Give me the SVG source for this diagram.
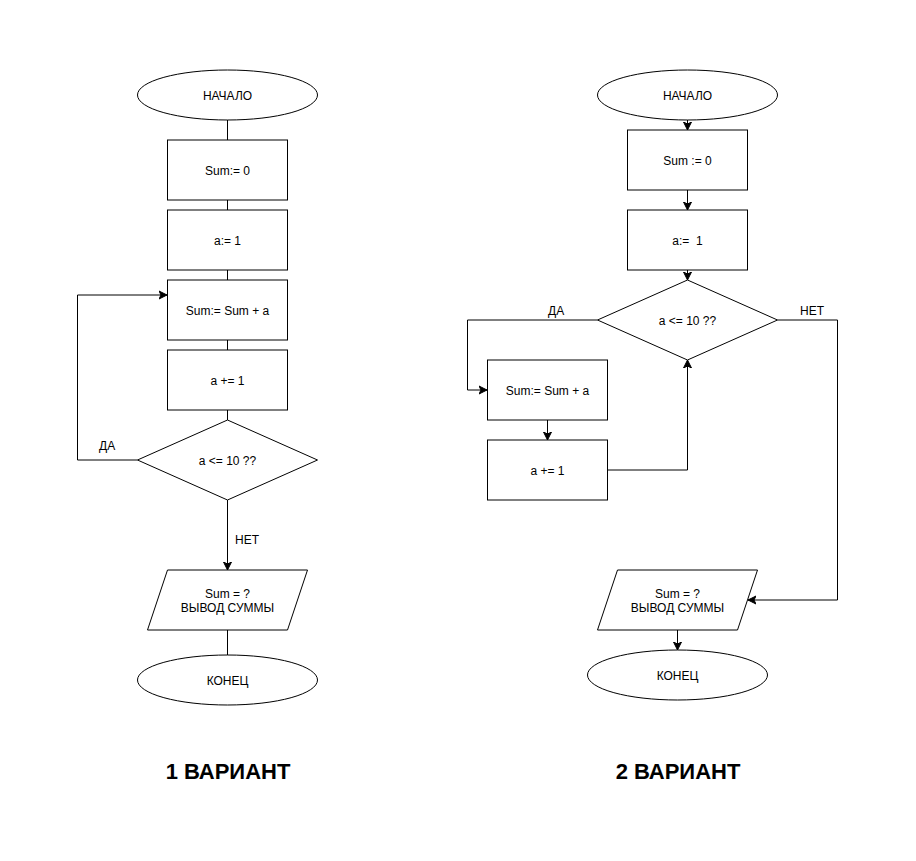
<svg xmlns="http://www.w3.org/2000/svg" width="916" height="861" viewBox="0 0 916 861">
<defs>
<marker id="arr" markerUnits="userSpaceOnUse" markerWidth="10" markerHeight="10" refX="8" refY="4" orient="auto" viewBox="0 0 10 8">
<path d="M0,0 L8,4 L0,8 L2,4 Z" fill="#000" stroke="#000" stroke-width="1"/>
</marker>
<style>
.s{fill:#fff;stroke:#000;stroke-width:1}
.t{font-family:"Liberation Sans",Arial,sans-serif;font-size:12px;fill:#000;text-anchor:middle;dominant-baseline:central}
.l{font-family:"Liberation Sans",Arial,sans-serif;font-size:12px;fill:#000;dominant-baseline:central}
.c{fill:none;stroke:#000;stroke-width:1}
.a{marker-end:url(#arr)}
.h{font-family:"Liberation Sans",Arial,sans-serif;font-size:22px;font-weight:bold;fill:#000;text-anchor:middle}
</style>
</defs>
<rect width="916" height="861" fill="#fff"/>
<g id="connectors">
<path class="c" d="M227.5,120 V140"/>
<path class="c" d="M227.5,200 V210"/>
<path class="c" d="M227.5,270 V280"/>
<path class="c" d="M227.5,340 V350"/>
<path class="c" d="M227.5,410 V420"/>
<path class="c a" d="M137.5,460 H77.5 V295 H167"/>
<path class="c a" d="M227.5,500 V570"/>
<path class="c" d="M227.5,630 V655"/>
<path class="c a" d="M687.5,120 V130"/>
<path class="c a" d="M687.5,190 V210"/>
<path class="c a" d="M687.5,270 V280"/>
<path class="c a" d="M597.5,320 H467.5 V390 H487"/>
<path class="c a" d="M547.5,420 V440"/>
<path class="c a" d="M607.5,470 H687.5 V360"/>
<path class="c a" d="M777.5,320 H837.5 V600 H748"/>
<path class="c a" d="M677.5,630 V650"/>
</g>
<g id="labels">
<text class="l" x="99" y="446">ДА</text>
<text class="l" x="235" y="540">НЕТ</text>
<text class="l" x="548" y="311">ДА</text>
<text class="l" x="800" y="311">НЕТ</text>
</g>
<g id="v1-start"><ellipse class="s" cx="227.5" cy="95" rx="90" ry="25"/><text class="t" x="227.5" y="96">НАЧАЛО</text></g>
<g id="v1-sum0"><rect class="s" x="167.5" y="140" width="120" height="60"/><text class="t" x="227.5" y="171">Sum:= 0</text></g>
<g id="v1-a1"><rect class="s" x="167.5" y="210" width="120" height="60"/><text class="t" x="227.5" y="241">a:= 1</text></g>
<g id="v1-sumadd"><rect class="s" x="167.5" y="280" width="120" height="60"/><text class="t" x="227.5" y="311">Sum:= Sum + a</text></g>
<g id="v1-inc"><rect class="s" x="167.5" y="350" width="120" height="60"/><text class="t" x="227.5" y="381">a += 1</text></g>
<g id="v1-cond"><path class="s" d="M227.5,420 L317.5,460 L227.5,500 L137.5,460 Z"/><text class="t" x="227.5" y="461">a &lt;= 10 ??</text></g>
<g id="v1-out"><path class="s" d="M167.5,570 H307.5 L287.5,630 H147.5 Z"/><text class="t" x="227.5" y="594">Sum = ?</text><text class="t" x="227.5" y="608">ВЫВОД СУММЫ</text></g>
<g id="v1-end"><ellipse class="s" cx="227.5" cy="680" rx="90" ry="25"/><text class="t" x="227.5" y="681">КОНЕЦ</text></g>
<g id="v2-start"><ellipse class="s" cx="687.5" cy="95" rx="90" ry="25"/><text class="t" x="687.5" y="96">НАЧАЛО</text></g>
<g id="v2-sum0"><rect class="s" x="627.5" y="130" width="120" height="60"/><text class="t" x="687.5" y="161">Sum := 0</text></g>
<g id="v2-a1"><rect class="s" x="627.5" y="210" width="120" height="60"/><text class="t" x="687.5" y="241" xml:space="preserve">a:=  1</text></g>
<g id="v2-cond"><path class="s" d="M687.5,280 L777.5,320 L687.5,360 L597.5,320 Z"/><text class="t" x="687.5" y="321">a &lt;= 10 ??</text></g>
<g id="v2-sumadd"><rect class="s" x="487.5" y="360" width="120" height="60"/><text class="t" x="547.5" y="391">Sum:= Sum + a</text></g>
<g id="v2-inc"><rect class="s" x="487.5" y="440" width="120" height="60"/><text class="t" x="547.5" y="471">a += 1</text></g>
<g id="v2-out"><path class="s" d="M617.5,570 H757.5 L737.5,630 H597.5 Z"/><text class="t" x="677.5" y="594">Sum = ?</text><text class="t" x="677.5" y="608">ВЫВОД СУММЫ</text></g>
<g id="v2-end"><ellipse class="s" cx="677.5" cy="675" rx="90" ry="25"/><text class="t" x="677.5" y="676">КОНЕЦ</text></g>
<g id="titles">
<text class="h" x="228" y="779">1 ВАРИАНТ</text>
<text class="h" x="678" y="779">2 ВАРИАНТ</text>
</g>
</svg>
